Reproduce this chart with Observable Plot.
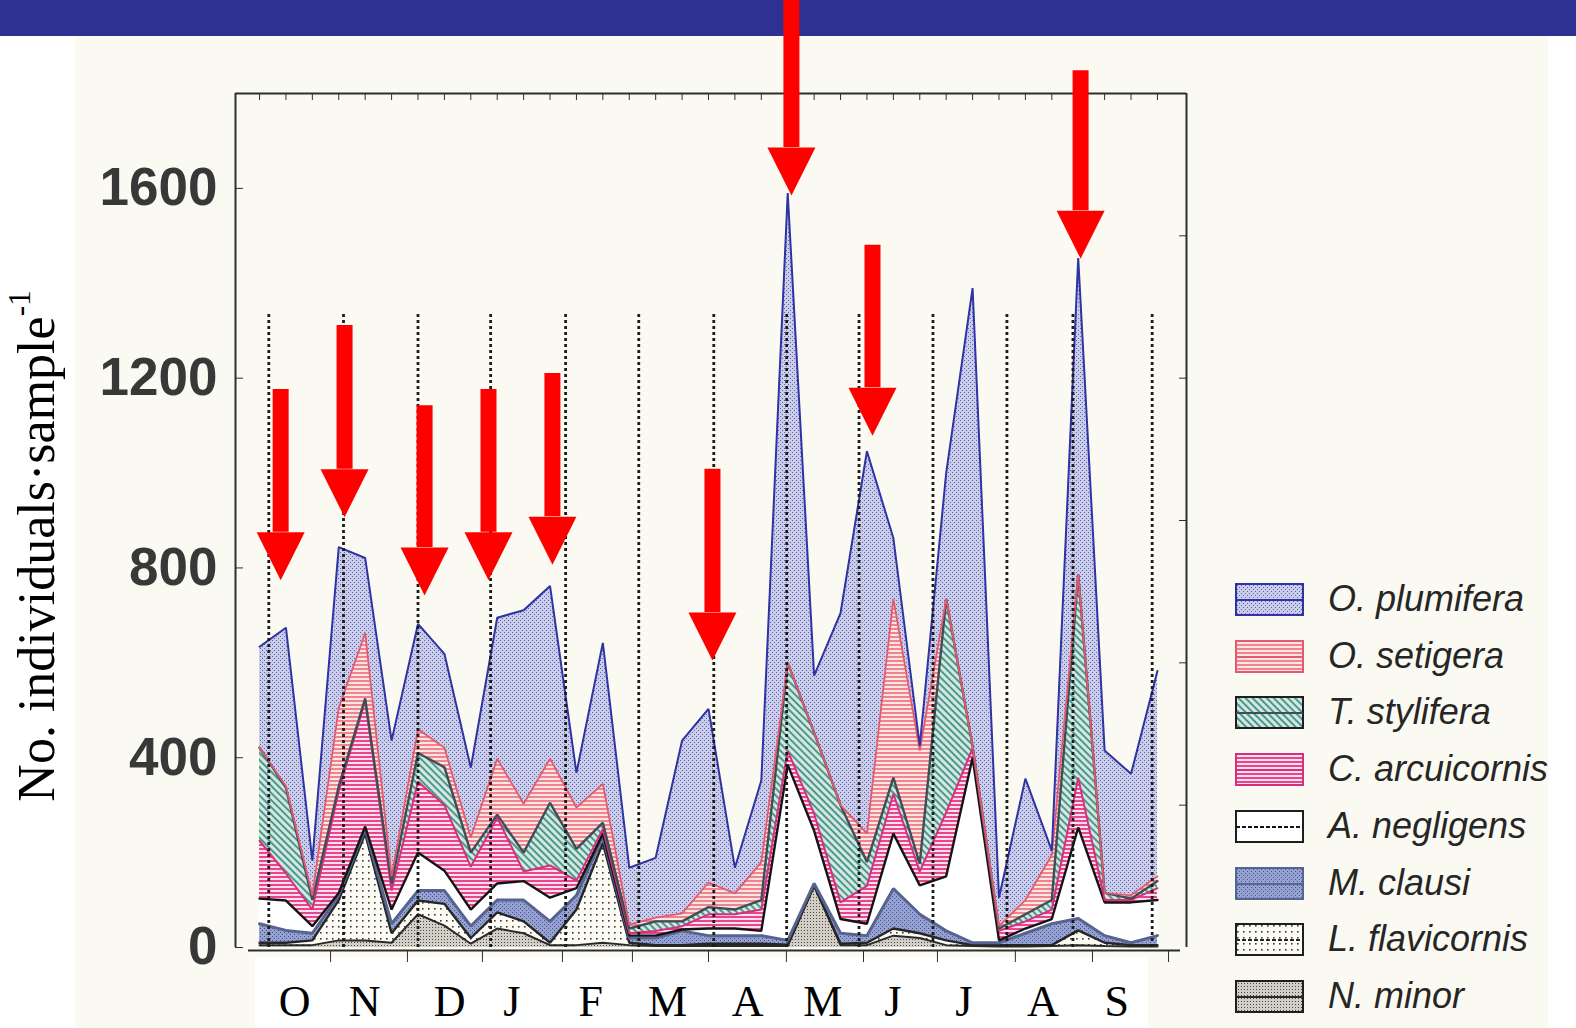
<!DOCTYPE html>
<html>
<head>
<meta charset="utf-8">
<script src="https://cdn.jsdelivr.net/npm/d3@7"></script>
<script src="https://cdn.jsdelivr.net/npm/@observablehq/plot@0.6"></script>
<style>
  html, body { margin: 0; padding: 0; background: #ffffff; }
  #wrap { position: relative; width: 1576px; height: 1028px; overflow: hidden; font-family: "Liberation Sans", Arial, sans-serif; }
  .bg { position: absolute; z-index: 0; }
  #chart { position: absolute; left: 0; top: 0; z-index: 1; }
  #ylabel { position: absolute; z-index: 2; left: 36px; top: 546px; transform: translate(-50%, -50%) rotate(-90deg);
            font-family: "Liberation Serif", "Times New Roman", serif; font-size: 52px; color: #000; white-space: nowrap; }
  #ylabel sup { font-size: 60%; vertical-align: 0.75em; line-height: 0; }
  #legend { position: absolute; z-index: 2; left: 1228px; top: 570px; width: 346px; height: 458px; }
  .lrow { position: absolute; left: 0; height: 34px; width: 346px; }
  .lrow svg { position: absolute; left: 7px; top: 0; }
  .lrow span { position: absolute; left: 100px; top: 50%; transform: translateY(-52%); font-style: italic; font-size: 36px; color: #262626; white-space: nowrap; }
</style>
</head>
<body>
<svg width="0" height="0" style="position:absolute">
  <defs>
    <pattern id="pPlum" width="4" height="4" patternUnits="userSpaceOnUse">
      <rect width="4" height="4" fill="#cacdea"/>
      <rect x="0" y="0" width="1" height="1" fill="#5d63ae"/>
      <rect x="2" y="2" width="1" height="1" fill="#5d63ae"/>
    </pattern>
    <pattern id="pSet" width="4" height="4" patternUnits="userSpaceOnUse">
      <rect width="4" height="4" fill="#fde5e2"/>
      <rect x="0" y="0" width="4" height="2" fill="#ef8390"/>
    </pattern>
    <pattern id="pSty" width="5" height="5" patternUnits="userSpaceOnUse" patternTransform="rotate(-45)">
      <rect width="5" height="5" fill="#d4e8e2"/>
      <rect x="0" y="0" width="2" height="5" fill="#4d988a"/>
    </pattern>
    <pattern id="pArc" width="4" height="4" patternUnits="userSpaceOnUse">
      <rect width="4" height="4" fill="#fde0ec"/>
      <rect x="0" y="0" width="4" height="2" fill="#e8458e"/>
    </pattern>
    <pattern id="pCla" width="4" height="4" patternUnits="userSpaceOnUse">
      <rect width="4" height="4" fill="#95a1d1"/>
      <rect x="0" y="0" width="1" height="1" fill="#45528f"/>
      <rect x="2" y="2" width="1" height="1" fill="#45528f"/>
    </pattern>
    <pattern id="pFla" width="6" height="6" patternUnits="userSpaceOnUse">
      <rect width="6" height="6" fill="#fdfcf4"/>
      <rect x="2" y="2" width="1.6" height="1.6" fill="#3a3a3a"/>
    </pattern>
    <pattern id="pMin" width="3" height="3" patternUnits="userSpaceOnUse">
      <rect width="3" height="3" fill="#d2cdc5"/>
      <rect x="0" y="0" width="1" height="1" fill="#4a4a4a"/>
    </pattern>
  </defs>
</svg>

<div id="wrap">
  <div class="bg" style="left:0;top:0;width:1576px;height:36px;background:#2e3191;"></div>
  <div class="bg" style="left:75px;top:36px;width:1473px;height:992px;background:#fbfaf2;"></div>
  <div class="bg" style="left:255px;top:957px;width:893px;height:71px;background:#ffffff;"></div>
  <div id="chart"></div>
  <div id="ylabel">No. individuals·sample<sup>-1</sup></div>
  <div id="legend"></div>
</div>

<script>
// ---------- DATA ----------
const sampleNo = d3.range(35);

// individuals per sample, per species (stack order bottom -> top)
const nMinor        = [5,5,5,15,15,10,70,46,8,40,30,5,5,10,5,3,3,3,3,3,3,130,5,5,25,20,5,3,2,2,3,5,3,2,2];
const lFlavicornis  = [5,5,10,85,225,20,29,46,12,34,25,5,75,210,5,2,2,5,5,5,3,0,3,5,15,10,10,2,3,3,2,31,7,3,3];
const mClausi       = [40,26,15,10,10,20,21,28,25,26,45,45,30,15,10,15,30,17,17,17,9,5,22,15,84,40,20,5,5,25,45,25,15,5,20];
const aNegligens    = [53,63,15,5,5,30,80,42,35,35,40,50,15,5,5,5,3,15,15,10,370,111,30,25,116,61,115,390,5,10,10,192,70,85,75];
const cArcuicornis  = [122,57,35,215,265,40,150,138,90,139,20,68,16,10,5,10,7,30,30,45,30,36,35,80,84,29,135,20,20,15,20,105,5,5,25];
const tStylifera    = [196,181,20,10,5,15,60,80,30,6,40,132,67,13,10,20,10,15,10,20,185,171,205,50,34,17,450,5,5,15,20,429,15,3,15];
const oSetigera     = [0,3,10,165,138,15,50,41,32,118,103,93,87,82,8,8,17,52,34,80,0,0,0,60,377,238,0,0,5,30,95,0,0,7,10];
const oPlumifera    = [213,334,73,339,158,286,222,198,147,297,408,364,73,297,120,126,364,366,54,172,990,120,405,806,128,10,265,965,60,256,9,666,300,256,433];

const speciesNames = ["N. minor","L. flavicornis","M. clausi","A. negligens","C. arcuicornis","T. stylifera","O. setigera","O. plumifera"];
const seriesValues = [nMinor, lFlavicornis, mClausi, aNegligens, cArcuicornis, tStylifera, oSetigera, oPlumifera];

// y axis ticks and month labels (positions in sample units)
const yTicks = [0, 400, 800, 1200, 1600];
const months = ["O","N","D","J","F","M","A","M","J","J","A","S"];
const monthLabelPos = [1.33, 3.98, 7.2, 9.55, 12.54, 15.45, 18.48, 21.33, 23.98, 26.67, 29.66, 32.46];
const monthMarks = [0.35, 3.18, 6.0, 8.75, 11.59, 14.36, 17.2, 19.96, 22.7, 25.5, 28.3, 30.8, 33.8];
const monthMarkTop = 1335;
const bottomTicks = [2.69, 5.6, 8.44, 11.47, 14.12, 17.0, 19.95, 22.87, 25.67, 28.62, 31.54, 34.42];
const rightTicks = [300, 600, 900, 1200, 1500];

// red arrows (annotation): sample position, head base value, shaft top value
const arrowPos  = [0.8, 3.22, 6.25, 8.67, 11.09, 17.15, 20.14, 23.21, 31.09];
const arrowBase = [875, 1008, 843, 875, 908, 706, 1686, 1180, 1553];
const arrowTop  = [1176, 1311, 1142, 1176, 1210, 1008, 2000, 1480, 1848];

// ---------- STYLES ----------
const fillOf = {
  "N. minor": "url(#pMin)", "L. flavicornis": "url(#pFla)", "M. clausi": "url(#pCla)", "A. negligens": "#ffffff",
  "C. arcuicornis": "url(#pArc)", "T. stylifera": "url(#pSty)", "O. setigera": "url(#pSet)", "O. plumifera": "url(#pPlum)"
};
const strokeOf = {
  "N. minor": "#2a2a2a", "L. flavicornis": "#262626", "M. clausi": "#56648f", "A. negligens": "#141414",
  "C. arcuicornis": "#d3307f", "T. stylifera": "#3f4e56", "O. setigera": "#e25a70", "O. plumifera": "#2f33a3"
};
const widthOf = {
  "N. minor": 2, "L. flavicornis": 2.4, "M. clausi": 3, "A. negligens": 2.4,
  "C. arcuicornis": 2, "T. stylifera": 2.4, "O. setigera": 1.8, "O. plumifera": 2
};

const rows = speciesNames.flatMap((s, k) => sampleNo.map(i => ({i, species: s, value: seriesValues[k][i]})));
const arrows = arrowPos.map((x, k) => ({x, base: arrowBase[k], top: arrowTop[k]}));

const arrowHead = {
  draw(context, size) {
    const s = Math.sqrt(size);
    context.moveTo(-s / 2, 0);
    context.lineTo(s / 2, 0);
    context.lineTo(0, s);
    context.closePath();
  }
};

const xDom = [-0.91, 35.1];

const chart = Plot.plot({
  width: 1576,
  height: 1028,
  marginLeft: 235,
  marginRight: 390,
  marginTop: 93,
  marginBottom: 81,
  x: {domain: xDom, axis: null},
  y: {domain: [0, 1800], axis: null},
  color: {type: "identity"},
  style: {background: "transparent", overflow: "visible", fontFamily: "Liberation Sans, Arial, sans-serif", maxWidth: "none"},
  marks: [
    Plot.areaY(rows, Plot.stackY({x: "i", y: "value", z: "species", order: speciesNames, fill: d => fillOf[d.species], curve: "linear"})),
    Plot.lineY(rows, Plot.stackY2({x: "i", y: "value", z: "species", order: speciesNames, stroke: d => strokeOf[d.species], strokeWidth: d => widthOf[d.species], strokeLinejoin: "miter", curve: "linear"})),
    Plot.ruleX(monthMarks, {x: d => d, y1: 0, y2: monthMarkTop, stroke: "#1c1c1c", strokeWidth: 2.8, strokeDasharray: "3,3"}),
    // frame
    Plot.ruleX(xDom, {stroke: "#2e2e2e", strokeWidth: 2}),
    Plot.ruleY([1800], {stroke: "#2e2e2e", strokeWidth: 2}),
    Plot.ruleY([0], {stroke: "#2e2e2e", strokeWidth: 2.2, dy: 3, insetLeft: 13, insetRight: 6}),
    Plot.axisX(sampleNo, {anchor: "top", tickSize: -6, tickFormat: () => "", label: null, color: "#2e2e2e"}),
    Plot.axisX(bottomTicks, {anchor: "bottom", tickSize: 12, tickFormat: () => "", label: null, color: "#2e2e2e", dy: 3}),
    Plot.axisY(yTicks, {anchor: "left", tickSize: -8, tickFormat: () => "", label: null, color: "#2e2e2e"}),
    Plot.axisY(rightTicks, {anchor: "right", tickSize: -8, tickFormat: () => "", label: null, color: "#2e2e2e"}),
    Plot.axisY(yTicks, {anchor: "left", tickSize: 0, tickPadding: 18, tickFormat: d => String(d), label: null, fontSize: 53, fontWeight: "bold", color: "#383838"}),
    Plot.text(months, {x: monthLabelPos, y: () => 0, text: d => d, dy: 54, fontSize: 44, fontFamily: "Liberation Serif, Times New Roman, serif", fill: "#000"}),
    // red arrows
    Plot.ruleX(arrows, {x: "x", y1: "base", y2: "top", stroke: "#ff0000", strokeWidth: 16}),
    Plot.dot(arrows, {x: "x", y: "base", symbol: arrowHead, r: 48 / Math.sqrt(Math.PI), fill: "#ff0000", stroke: "none"})
  ]
});
document.getElementById("chart").appendChild(chart);

// legend
const legendOrder = speciesNames.slice().reverse();
const legend = document.getElementById("legend");
legendOrder.forEach((s, k) => {
  const row = document.createElement("div");
  row.className = "lrow";
  row.style.top = (13 + k * 56.7) + "px";
  const dashed = (s === "A. negligens" || s === "L. flavicornis") ? ' stroke-dasharray="4,2"' : '';
  const border = (s === "A. negligens" || s === "L. flavicornis" || s === "N. minor" || s === "T. stylifera") ? "#1e1e1e" : strokeOf[s];
  row.innerHTML =
    `<svg width="70" height="34"><rect x="1" y="1" width="67" height="31" fill="${fillOf[s]}" stroke="${border}" stroke-width="2"/>` +
    `<line x1="1" x2="68" y1="17" y2="17" stroke="${strokeOf[s]}" stroke-width="2"${dashed}/></svg>` +
    `<span>${s}</span>`;
  legend.appendChild(row);
});
</script>
</body>
</html>
